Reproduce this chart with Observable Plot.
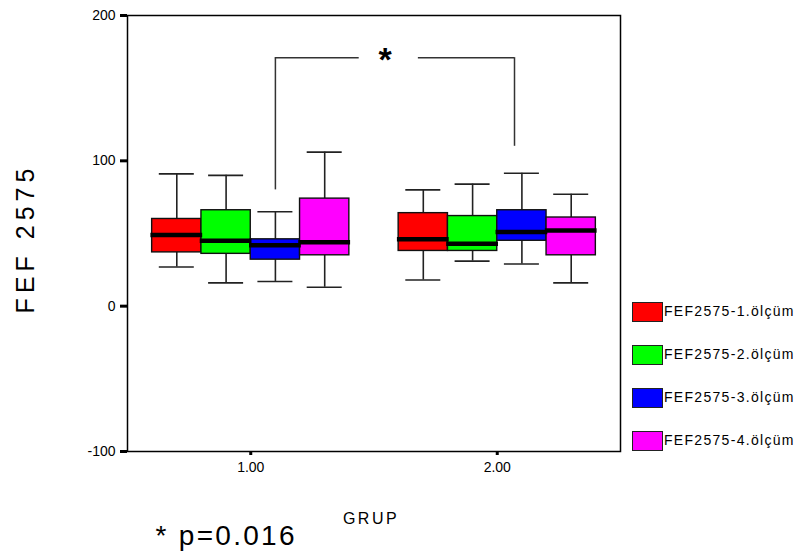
<!DOCTYPE html>
<html><head><meta charset="utf-8">
<script src="https://cdn.jsdelivr.net/npm/d3@7"></script>
<script src="https://cdn.jsdelivr.net/npm/@observablehq/plot@0.6"></script>
<style>
body{margin:0;background:#fff;font-family:"Liberation Sans",Arial,sans-serif;}
#wrap{position:relative;width:797px;height:554px;background:#fff;}
#legend{position:absolute;left:632px;top:302px;}
.row{display:flex;align-items:center;height:19px;margin-bottom:24px;}
.sw{width:29px;height:18px;border:1px solid #222;box-sizing:content-box;}
.lab{font-size:14px;letter-spacing:1.3px;color:#000;margin-left:1px;line-height:19px;white-space:nowrap;}
</style></head><body><div id="wrap"></div>
<script>
const groups = [1, 2];
const xTickLabels = ["1.00", "2.00"];
const seriesNames = ["FEF2575-1.ölçüm", "FEF2575-2.ölçüm", "FEF2575-3.ölçüm", "FEF2575-4.ölçüm"];
const seriesColors = ["#ff0000", "#00ff00", "#0000ff", "#ff00ff"];
const whiskerLow  = [[27, 16, 17, 13], [18, 31, 29, 16]];
const quartile1   = [[37, 36, 32, 35], [38, 38, 45, 35]];
const medians     = [[49, 45, 42, 44], [46, 43, 51, 52]];
const quartile3   = [[60, 66, 46, 74], [64, 62, 66, 61]];
const whiskerHigh = [[91, 90, 65, 106], [80, 84, 91.5, 77]];
const yTicks = [-100, 0, 100, 200];
const yLabel = "FEF 2575";
const xLabel = "GRUP";
const noteText = "* p=0.016";
// significance bracket (data units)
const bracketX = [1.1, 2.07];
const bracketFeet = [80, 110];
const bracketTop = 171;
const starGap = [1.44, 1.68];
const starX = 1.545;

const boxW = 0.2, capHalf = 0.071;
const rows = [];
groups.forEach((g, gi) => seriesNames.forEach((s, si) => {
  const x1 = g - 0.4 + si * boxW;
  rows.push({g, s, color: seriesColors[si], x1, x2: x1 + boxW, xc: x1 + boxW / 2,
    lo: whiskerLow[gi][si], q1: quartile1[gi][si], med: medians[gi][si],
    q3: quartile3[gi][si], hi: whiskerHigh[gi][si]});
}));
const caps = rows.flatMap(r => [{y: r.lo, x1: r.xc - capHalf, x2: r.xc + capHalf}, {y: r.hi, x1: r.xc - capHalf, x2: r.xc + capHalf}]);
const bracketLegs = bracketX.map((x, i) => ({x, y1: bracketFeet[i], y2: bracketTop}));
const bracketBars = [{x1: bracketX[0], x2: starGap[0], y: bracketTop}, {x1: starGap[1], x2: bracketX[1], y: bracketTop}];

const font = '"Liberation Sans", Arial, sans-serif';
const plot = Plot.plot({
  width: 797, height: 554,
  marginLeft: 127, marginRight: 177, marginTop: 15, marginBottom: 103,
  style: {fontFamily: font, background: "#fff", color: "#000"},
  x: {type: "linear", domain: [0.5, 2.5]},
  y: {domain: [-100, 200]},
  marks: [
    Plot.axisY({ticks: yTicks, tickFormat: d => String(d), tickSize: 7, tickPadding: 5, fontSize: 14, strokeWidth: 3, label: null}),
    Plot.axisX({ticks: groups, tickFormat: (d, i) => xTickLabels[groups.indexOf(d)], tickSize: 4, tickPadding: 7, fontSize: 14, strokeWidth: 3, label: null}),
    Plot.frame({stroke: "#000", strokeWidth: 1.5}),
    Plot.ruleX(rows, {x: "xc", y1: "lo", y2: "q1", stroke: "#222", strokeWidth: 1.6}),
    Plot.ruleX(rows, {x: "xc", y1: "q3", y2: "hi", stroke: "#222", strokeWidth: 1.6}),
    Plot.ruleY(caps, {y: "y", x1: "x1", x2: "x2", stroke: "#222", strokeWidth: 1.6}),
    Plot.rect(rows, {x1: "x1", x2: "x2", y1: "q1", y2: "q3", fill: "color", stroke: "#111", strokeWidth: 1.4}),
    Plot.ruleY(rows, {y: "med", x1: d => d.x1 - 0.005, x2: d => d.x2 + 0.005, stroke: "#000", strokeWidth: 4.5}),
    Plot.ruleX(bracketLegs, {x: "x", y1: "y1", y2: "y2", stroke: "#333", strokeWidth: 1.5}),
    Plot.ruleY(bracketBars, {y: "y", x1: "x1", x2: "x2", stroke: "#333", strokeWidth: 1.5}),
    Plot.text(["*"], {x: starX, y: bracketTop, text: d => d, fontSize: 34, fontWeight: "bold", lineAnchor: "middle", dy: 2, fill: "#000"}),
    Plot.text([yLabel], {frameAnchor: "left", text: d => d, rotate: -90, textAnchor: "middle", lineAnchor: "middle", dx: -102, dy: 5, fontSize: 25, fill: "#000"}),
    Plot.text([xLabel], {frameAnchor: "bottom", text: d => d, textAnchor: "middle", lineAnchor: "middle", dx: -3, dy: 67, fontSize: 16, fill: "#000"}),
    Plot.text([noteText], {frameAnchor: "bottom-left", text: d => d, textAnchor: "start", lineAnchor: "middle", dx: 28, dy: 85, fontSize: 28, fill: "#000"})
  ]
});
const spacing = {[yLabel]: "5px", [xLabel]: "2.5px", [noteText]: "2.3px"};
d3.select(plot).selectAll("text").each(function() {
  const t = this.textContent;
  if (spacing[t]) this.style.letterSpacing = spacing[t];
});
const wrap = document.getElementById("wrap");
wrap.appendChild(plot);
const legend = document.createElement("div");
legend.id = "legend";
seriesNames.forEach((n, i) => {
  const row = document.createElement("div"); row.className = "row";
  const sw = document.createElement("div"); sw.className = "sw"; sw.style.background = seriesColors[i];
  const lab = document.createElement("span"); lab.className = "lab"; lab.textContent = n;
  row.appendChild(sw); row.appendChild(lab); legend.appendChild(row);
});
wrap.appendChild(legend);
</script></body></html>
